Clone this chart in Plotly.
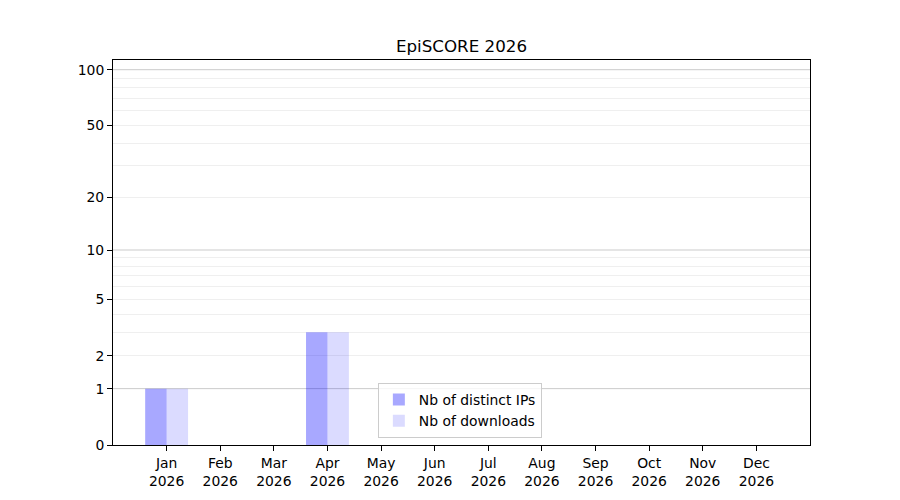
import numpy as np
import plotly.graph_objects as go

months = ["Jan", "Feb", "Mar", "Apr", "May", "Jun",
          "Jul", "Aug", "Sep", "Oct", "Nov", "Dec"]
year = "2026"
distinct_ips = [1, 0, 0, 3, 0, 0, 0, 0, 0, 0, 0, 0]
downloads = [1, 0, 0, 3, 0, 0, 0, 0, 0, 0, 0, 0]

y_ticks = [0, 1, 2, 5, 10, 20, 50, 100]
y_major_grid = [1, 10, 100]
y_minor_grid = [2, 3, 4, 5, 6, 7, 8, 9, 20, 30, 40, 50, 60, 70, 80, 90]
y_top = 112.8


def tr(v):
    # log(1 + x) scale, like the original
    return np.log10(1 + np.asarray(v, dtype=float))


x = list(range(len(months)))
font = dict(family="DejaVu Sans", size=13.9, color="black")

fig = go.Figure()
fig.add_trace(go.Bar(x=x, y=tr(distinct_ips), width=0.4, offset=-0.4,
                     marker=dict(color="rgba(0,0,255,0.34)", line_width=0),
                     name="Nb of distinct IPs"))
fig.add_trace(go.Bar(x=x, y=tr(downloads), width=0.4, offset=0,
                     marker=dict(color="rgba(0,0,255,0.14)", line_width=0),
                     name="Nb of downloads"))

for v in y_major_grid:
    fig.add_shape(type="line", xref="paper", yref="y", x0=0, x1=1,
                  y0=float(tr(v)), y1=float(tr(v)), layer="below",
                  line=dict(color="#cbcbcb", width=1))

# page body has an 8px margin, so shift everything up/left
fig.update_layout(
    width=900, height=500,
    paper_bgcolor="white", plot_bgcolor="white",
    margin=dict(l=105, r=98, t=52, b=63),
    font=font,
    barmode="overlay",
    title=dict(text="EpiSCORE 2026", x=(461.5 - 8) / 900, xanchor="center",
               y=1 - 38 / 500, yanchor="middle", yref="container",
               font=dict(family="DejaVu Sans", size=16.7, color="black")),
    legend=dict(x=0.38, y=0.018, xanchor="left", yanchor="bottom",
                bgcolor="rgba(255,255,255,0.8)", bordercolor="#cccccc",
                borderwidth=1, font=font, tracegroupgap=2),
    showlegend=True,
)

fig.update_xaxes(
    range=[-1, 12], tickmode="array", tickvals=x,
    ticktext=[m + "<br>" + year for m in months],
    showgrid=False, zeroline=False,
    showline=True, linecolor="black", linewidth=1, mirror=True,
    ticks="outside", ticklen=5, tickcolor="black",
)
fig.update_yaxes(
    range=[0, float(tr(y_top))], tickmode="array",
    tickvals=tr(y_ticks), ticktext=[str(t) for t in y_ticks],
    showgrid=False, zeroline=False,
    showline=True, linecolor="black", linewidth=1, mirror=True,
    ticks="outside", ticklen=5, tickcolor="black",
    minor=dict(tickmode="array", tickvals=tr(y_minor_grid), showgrid=True,
               gridcolor="#efefef", gridwidth=1, ticks=""),
)

fig.write_html("out.html")
